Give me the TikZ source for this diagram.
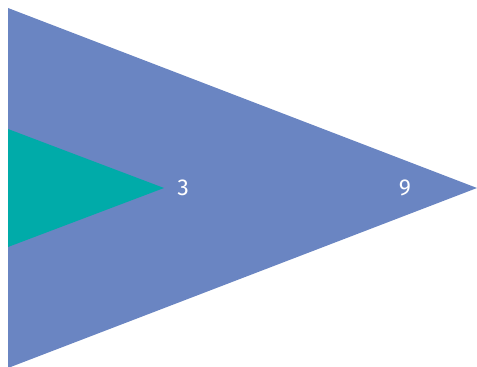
\documentclass[tikz,border=0pt]{standalone}
\usepackage{fontspec}
\setmainfont{Fira Sans}
\definecolor{bigblue}{HTML}{6A85C2}
\definecolor{teal2}{HTML}{00ABA9}
\begin{document}
\begin{tikzpicture}[x=1pt,y=1pt,
  lbl/.style={text=white,font=\fontsize{23}{26}\selectfont,inner sep=0pt}]
\useasboundingbox (0,0) rectangle (477,367);
\clip (0,0) rectangle (477,367);
\fill[bigblue] (8,359) -- (477,179) -- (8,-1) -- cycle;
\fill[teal2] (8,238) -- (164,179) -- (8,120) -- cycle;
\node[lbl] (three) at (183,179) {3};
\node[lbl] (nine) at (405,179) {9};
\end{tikzpicture}
\end{document}
